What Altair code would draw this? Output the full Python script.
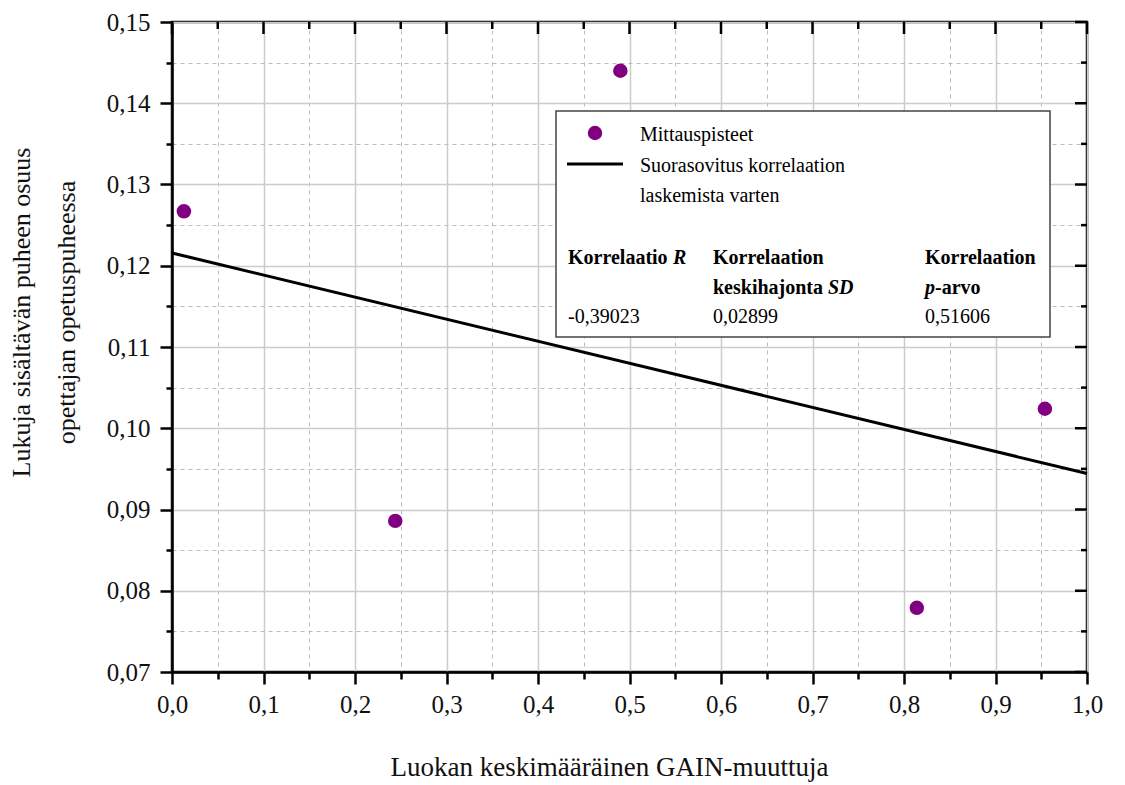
import altair as alt
import pandas as pd

# ---- data ----
gain = [0.013, 0.244, 0.490, 0.814, 0.954]
share = [0.1267, 0.0886, 0.1440, 0.0779, 0.1024]

x_major = [0.0, 0.1, 0.2, 0.3, 0.4, 0.5, 0.6, 0.7, 0.8, 0.9, 1.0]
x_minor = [0.05, 0.15, 0.25, 0.35, 0.45, 0.55, 0.65, 0.75, 0.85, 0.95]
y_major = [0.07, 0.08, 0.09, 0.10, 0.11, 0.12, 0.13, 0.14, 0.15]
y_minor = [0.075, 0.085, 0.095, 0.105, 0.115, 0.125, 0.135, 0.145]

legend_labels = ["Mittauspisteet", "Suorasovitus korrelaation", "laskemista varten"]
stat_values = ["-0,39023", "0,02899", "0,51606"]

x_title = "Luokan keskimääräinen GAIN-muuttuja"
y_title = ["Lukuja sisältävän puheen osuus", "opettajan opetuspuheessa"]

FONT = "Liberation Serif"
PURPLE = "#800080"
W, H = 915, 650

df = pd.DataFrame({"x": gain, "y": share})

x_is_major = "abs(datum.value*10 - round(datum.value*10)) < 0.001"
y_is_major = "abs(datum.value*100 - round(datum.value*100)) < 0.001"

x_scale = alt.Scale(domain=[0, 1], nice=False, zero=False)
y_scale = alt.Scale(domain=[0.07, 0.15], nice=False, zero=False)

x_axis = alt.Axis(
    values=sorted(x_major + x_minor),
    labelExpr=f"{x_is_major} ? replace(format(datum.value, '.1f'), '.', ',') : ''",
    tickSize={"condition": {"test": x_is_major, "value": 12}, "value": 7},
    gridDash={"condition": {"test": x_is_major, "value": []}, "value": [4, 4]},
    gridColor={"condition": {"test": x_is_major, "value": "#cccccc"}, "value": "#bbbbbb"},
    gridWidth={"condition": {"test": x_is_major, "value": 1.5}, "value": 1},
    grid=True,
    title=x_title,
    titleX=437, titleY=103, titleAlign="center", titleBaseline="alphabetic",
    labelPadding=8, labelFontSize=25, labelFont=FONT, labelColor="#111",
    titleFontSize=27, titleFont=FONT, titleFontWeight="normal", titleColor="#111",
    domainColor="#000", domainWidth=2.5, tickColor="#000", tickWidth=2.5,
    labelFlush=False, labelOverlap=False,
)
y_axis = alt.Axis(
    values=sorted(y_major + y_minor),
    labelExpr=f"{y_is_major} ? replace(format(datum.value, '.2f'), '.', ',') : ''",
    tickSize={"condition": {"test": y_is_major, "value": 12}, "value": 6},
    gridDash={"condition": {"test": y_is_major, "value": []}, "value": [4, 4]},
    gridColor={"condition": {"test": y_is_major, "value": "#cccccc"}, "value": "#bbbbbb"},
    gridWidth={"condition": {"test": y_is_major, "value": 1.5}, "value": 1},
    grid=True,
    title=y_title,
    titleX=-143, titleY=290, titleAngle=270, titleAlign="center",
    titleBaseline="alphabetic", titleLineHeight=45,
    labelPadding=10, labelFontSize=25, labelFont=FONT, labelColor="#111",
    titleFontSize=26, titleFont=FONT, titleFontWeight="normal", titleColor="#111",
    domainColor="#000", domainWidth=2.5, tickColor="#000", tickWidth=2.5,
    labelFlush=False, labelOverlap=False,
)

base = alt.Chart(df)

points = base.mark_circle(size=210, color=PURPLE, opacity=1).encode(
    x=alt.X("x:Q", scale=x_scale, axis=x_axis),
    y=alt.Y("y:Q", scale=y_scale, axis=y_axis),
)

fit = base.transform_regression("x", "y", extent=[0, 1]).mark_line(
    color="#000", strokeWidth=3
).encode(x=alt.X("x:Q", scale=x_scale), y=alt.Y("y:Q", scale=y_scale))

# inward ticks on top and right frame
def top_ticks(vals, length):
    return alt.Chart(pd.DataFrame({"v": vals})).mark_rule(color="#000", strokeWidth=2.5).encode(
        x=alt.X("v:Q", scale=x_scale), y=alt.value(0), y2=alt.value(length)
    )

def right_ticks(vals, length):
    return alt.Chart(pd.DataFrame({"v": vals})).mark_rule(color="#000", strokeWidth=2.5).encode(
        y=alt.Y("v:Q", scale=y_scale), x=alt.value(W - length), x2=alt.value(W)
    )

one = alt.Data(values=[{"k": 1}])

def txt(s, x, y, weight="normal", style="normal", size=20):
    return alt.Chart(one).mark_text(
        align="left", baseline="alphabetic", font=FONT, fontSize=size,
        fontWeight=weight, fontStyle=style, color="#000"
    ).encode(x=alt.value(x), y=alt.value(y), text=alt.value(s))

legend_box = alt.Chart(one).mark_rect(fill="white", stroke="#444", strokeWidth=1.5).encode(
    x=alt.value(384), x2=alt.value(878), y=alt.value(89), y2=alt.value(315)
)
legend_dot = alt.Chart(one).mark_circle(size=210, color=PURPLE, opacity=1).encode(
    x=alt.value(423), y=alt.value(111)
)
legend_line = alt.Chart(one).mark_rule(color="#000", strokeWidth=3).encode(
    x=alt.value(395), x2=alt.value(451), y=alt.value(142)
)

legend_layers = [
    legend_box, legend_dot, legend_line,
    txt(legend_labels[0], 468, 119),
    txt(legend_labels[1], 468, 150),
    txt(legend_labels[2], 468, 180),
    txt("Korrelaatio", 396, 242, weight="bold"),
    txt("R", 501, 242, weight="bold", style="italic"),
    txt("Korrelaation", 541, 242, weight="bold"),
    txt("keskihajonta", 541, 272, weight="bold"),
    txt("SD", 656, 272, weight="bold", style="italic"),
    txt("Korrelaation", 753, 242, weight="bold"),
    txt("p", 753, 272, weight="bold", style="italic"),
    txt("-arvo", 763, 272, weight="bold"),
    txt(stat_values[0], 396, 301),
    txt(stat_values[1], 541, 301),
    txt(stat_values[2], 753, 301),
]

chart = alt.layer(
    points,
    fit,
    top_ticks(x_major, 12), top_ticks(x_minor, 7),
    right_ticks(y_major, 12), right_ticks(y_minor, 6),
    *legend_layers,
).properties(
    width=W, height=H,
    autosize="none",
    padding={"left": 164, "top": 14, "right": 22, "bottom": 118},
    background="white",
).configure_view(stroke="#000", strokeWidth=2.5)

chart.save("out.html", embed_options={"renderer": "svg", "actions": False})
